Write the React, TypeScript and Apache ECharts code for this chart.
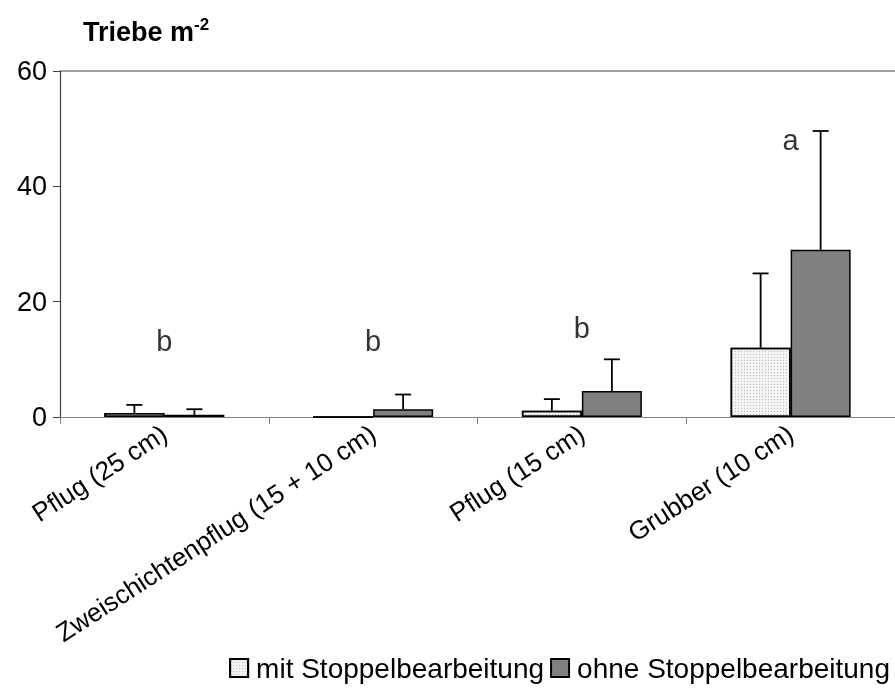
import React, { useEffect, useRef } from "react";
import * as echarts from "echarts";

const categories = ["Pflug (25 cm)", "Zweischichtenpflug (15 + 10 cm)", "Pflug (15 cm)", "Grubber (10 cm)"];
const mitValues = [0.7, 0, 1.1, 12.0];
const mitUpper = [2.1, 0, 3.1, 24.9];
const ohneValues = [0.4, 1.35, 4.5, 29.0];
const ohneUpper = [1.35, 3.9, 10.0, 49.6];
const letters = ["b", "b", "b", "a"];
const letterY = [13.2, 13.2, 15.4, 48];
const yTicks = [0, 20, 40, 60];

const FONT = "'Liberation Sans', Arial, sans-serif";

export default function App() {
  const ref = useRef<HTMLDivElement>(null);
  useEffect(() => {
    if (!ref.current) return;
    const chart = echarts.init(ref.current, null, { renderer: "svg" });
    const BW = 60;
    const errSeries = (vals: number[], ups: number[], side: number, name: string) => ({
      type: "custom",
      name: name + "_err",
      z: 1,
      silent: true,
      data: vals.map((v, i) => [i, v, ups[i]]),
      renderItem: (params: any, api: any) => {
        const i = api.value(0);
        const v = api.value(1);
        const u = api.value(2);
        if (!(u > v)) return null;
        const base = api.coord([i, v]);
        const top = api.coord([i, u]);
        const x = base[0] + side * BW / 2;
        return {
          type: "group",
          children: [
            { type: "line", shape: { x1: x, y1: base[1], x2: x, y2: top[1] }, style: { stroke: "#000", lineWidth: 1.8 } },
            { type: "line", shape: { x1: x - 8, y1: top[1], x2: x + 8, y2: top[1] }, style: { stroke: "#000", lineWidth: 1.8 } },
          ],
        };
      },
    });
    chart.setOption({
      animation: false,
      textStyle: { fontFamily: FONT },
      title: {
        left: 78,
        top: 11,
        text: "{a|Triebe m}{b|-2}",
        textStyle: {
          rich: {
            a: { fontFamily: FONT, fontSize: 27, fontWeight: "bold", color: "#000" },
            b: { fontFamily: FONT, fontSize: 17, fontWeight: "bold", color: "#000", padding: [0, 0, 14, 0] },
          },
        },
      },
      legend: {
        bottom: 4,
        right: 0,
        itemWidth: 18,
        itemHeight: 18,
        itemGap: 6,
        icon: "rect",
        textStyle: { fontFamily: FONT, fontSize: 28, color: "#000", padding: [0, 0, 0, 3] },
        data: ["mit Stoppelbearbeitung", "ohne Stoppelbearbeitung"],
      },
      grid: { left: 60, top: 71, width: 846, height: 346, containLabel: false },
      xAxis: {
        type: "category",
        data: categories,
        axisLine: { lineStyle: { color: "#808080", width: 1.2 } },
        axisTick: { show: true, length: 7, lineStyle: { color: "#808080" } },
        axisLabel: { rotate: 33, fontFamily: FONT, fontSize: 26, color: "#000", margin: 14, interval: 0 },
      },
      yAxis: {
        type: "value",
        min: 0,
        max: 60,
        interval: 20,
        axisLine: { show: true, lineStyle: { color: "#404040", width: 1.2 } },
        axisTick: { show: true, length: 7, inside: false, lineStyle: { color: "#404040" } },
        axisLabel: { fontFamily: FONT, fontSize: 27, color: "#000", margin: 13, formatter: (v: number) => (yTicks.includes(v) ? String(v) : "") },
        splitLine: { show: true, lineStyle: { color: ["transparent", "transparent", "transparent", "#808080"], width: 1.5 } },
      },
      series: [
        {
          type: "bar",
          name: "mit Stoppelbearbeitung",
          data: mitValues,
          barWidth: BW,
          barGap: "0%",
          z: 2,
          itemStyle: {
            color: "#f3f3f3",
            borderColor: "#000",
            borderWidth: 1.5,
            decal: { symbol: "rect", symbolSize: 1, dashArrayX: [1, 2], dashArrayY: [1, 2], color: "#bdbdbd", rotation: 0 },
          },
        },
        {
          type: "bar",
          name: "ohne Stoppelbearbeitung",
          data: ohneValues,
          barWidth: BW,
          barGap: "0%",
          z: 2,
          itemStyle: { color: "#808080", borderColor: "#000", borderWidth: 1.5 },
        },
        errSeries(mitValues, mitUpper, -1, "mit"),
        errSeries(ohneValues, ohneUpper, 1, "ohne"),
        {
          type: "scatter",
          name: "letters",
          data: letterY,
          symbolSize: 1,
          itemStyle: { color: "transparent" },
          label: { show: true, position: "inside", formatter: (p: any) => letters[p.dataIndex], fontFamily: FONT, fontSize: 29, color: "#000" },
          silent: true,
        },
      ],
    });
    return () => chart.dispose();
  }, []);
  return <div ref={ref} style={{ position: "fixed", left: 0, top: 0, width: 895, height: 691 }} />;
}
